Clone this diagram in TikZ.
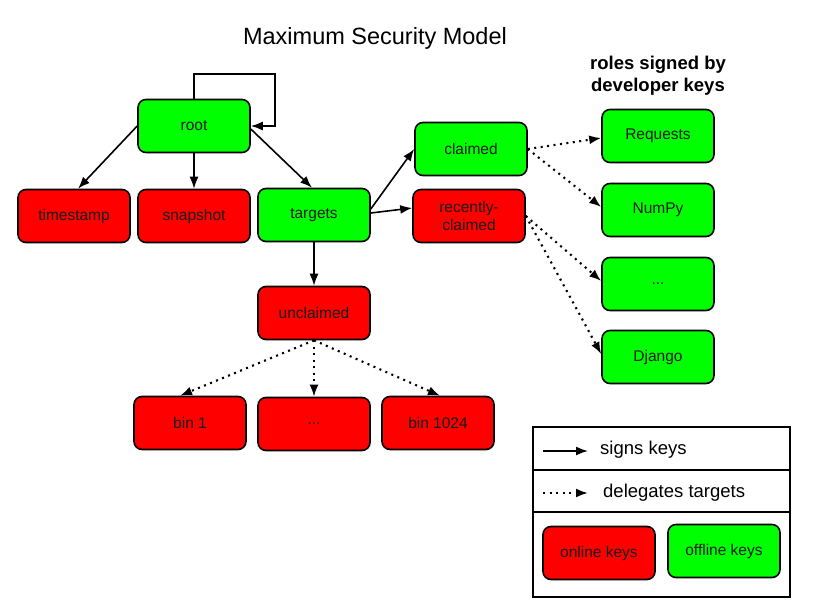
\documentclass[tikz,border=0pt]{standalone}
\usepackage{fontspec}
\setmainfont{Liberation Sans}
\usetikzlibrary{arrows.meta}
\definecolor{gr}{HTML}{00FF00}
\definecolor{rd}{HTML}{FF0000}
\definecolor{tx}{HTML}{1A1A1A}
\begin{document}
\begin{tikzpicture}[x=1pt,y=-1pt,
  box/.style={draw=black,line width=1.6pt,rounded corners=8pt,minimum width=112pt,minimum height=53pt,inner sep=0pt,text=tx,font=\fontsize{15.5}{18}\selectfont,align=center},
  online/.style={box,fill=rd},
  offline/.style={box,fill=gr},
  sig/.style={line width=1.6pt,-{Latex[length=12pt,width=9pt]}},
  del/.style={line width=2.1pt,dash pattern=on 2pt off 4.5pt,-{Latex[length=12pt,width=9pt]}},
  lbl/.style={inner sep=0pt,text=black}]
\useasboundingbox (0,0) rectangle (820,600);
\fill[white] (0,0) rectangle (820,600);

\node[lbl,font=\fontsize{23.5}{28}\selectfont] (title) at (375,38) {Maximum Security Model};
\node[lbl,font=\fontsize{18.5}{22}\selectfont\bfseries,align=center] (roles) at (658,76) {roles signed by\\developer keys};

\node[offline] (root) at (194,126) {root};
\node[online] (timestamp) at (74,216) {timestamp};
\node[online] (snapshot) at (194,216) {snapshot};
\node[offline] (targets) at (314,215) {targets};
\node[offline] (claimed) at (471,149) {claimed};
\node[online] (recent) at (469,216) {recently-\\claimed};
\node[offline] (requests) at (658,136) {Requests};
\node[offline] (numpy) at (658,210) {NumPy};
\node[offline] (rdots) at (658,284) {...};
\node[offline] (django) at (658,357) {Django};
\node[online] (unclaimed) at (314,313) {unclaimed};
\node[online] (bin1) at (190,423) {bin 1};
\node[online] (bdots) at (314,424) {...};
\node[online] (bin1024) at (438,423) {bin 1024};

\coordinate (loopc) at (275,74);
\draw[sig] (root.north) |- (loopc) |- (root.east);
\draw[sig] (root.west) -- ([xshift=4pt]timestamp.north);
\draw[sig] (root.south) -- (snapshot.north);
\draw[sig] ([yshift=-3pt]root.east) -- ([xshift=-2pt]targets.north);
\draw[sig] ([yshift=6pt]targets.east) -- (claimed.west);
\draw[sig] ([yshift=2pt]targets.east) -- ([yshift=8pt]recent.west);
\draw[sig] (targets.south) -- (unclaimed.north);

\draw[del] (claimed.east) -- ([yshift=-2pt]requests.west);
\draw[del] (claimed.east) -- ([yshift=3pt]numpy.west);
\draw[del] (recent.east) -- ([yshift=3pt]rdots.west);
\draw[del] (recent.east) -- ([yshift=3pt]django.west);
\draw[del] (unclaimed.south) -- ([xshift=-10pt]bin1.north);
\draw[del] (unclaimed.south) -- (bdots.north);
\draw[del] (unclaimed.south) -- ([xshift=2pt]bin1024.north);

% legend
\draw[line width=1.6pt] (533,427) rectangle (790,597);
\draw[line width=1.6pt] (533,470) -- (790,470);
\draw[line width=1.6pt] (533,512) -- (790,512);
\coordinate (ls1) at (543,451);
\coordinate (le1) at (588,451);
\coordinate (ls2) at (543,493);
\coordinate (le2) at (588,493);
\draw[sig] (ls1) -- (le1);
\draw[del] (ls2) -- (le2);
\node[lbl,anchor=west,font=\fontsize{18.5}{22}\selectfont] (t1) at (600,450) {signs keys};
\node[lbl,anchor=west,font=\fontsize{18.5}{22}\selectfont] (t2) at (603,493) {delegates targets};
\node[online] (onk) at (599,553) {online keys};
\node[offline] (offk) at (724,551) {offline keys};
\end{tikzpicture}
\end{document}
